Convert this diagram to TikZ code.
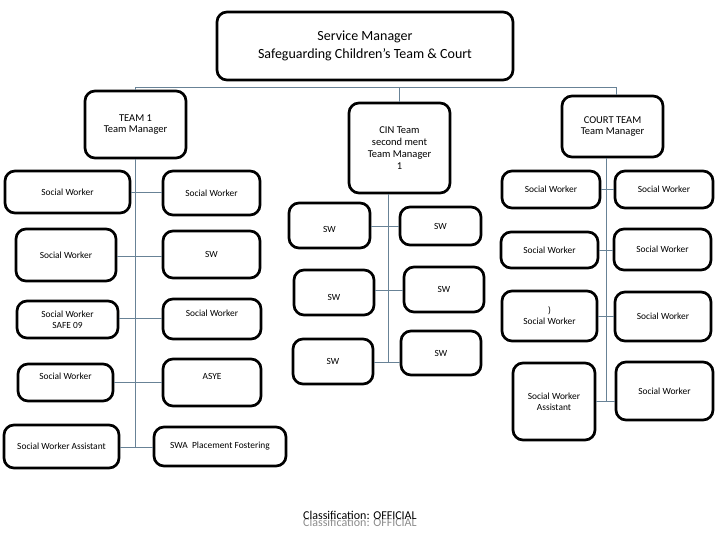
\documentclass[tikz,border=0pt]{standalone}
\usepackage{fontspec}
\setmainfont{Carlito}
\usetikzlibrary{calc}
\definecolor{conncol}{RGB}{104,130,150}
\definecolor{classgray}{RGB}{140,140,140}
\tikzset{
  box/.style={draw=black, line width=2.7pt, rounded corners=10pt, align=center, inner sep=1pt, font=\fontsize{9.4}{11}\selectfont},
  mgr/.style={box, font=\fontsize{10.5}{11.8}\selectfont},
  conn/.style={draw=conncol, line width=1pt},
  ctext/.style={anchor=west, inner sep=0pt, font=\fontsize{12}{13}\selectfont}
}
\begin{document}
\begin{tikzpicture}[x=1pt,y=-1pt]
\useasboundingbox (0,0) rectangle (720,540);
% managers
\node[box, font=\fontsize{14}{17.5}\selectfont, minimum width=296pt, minimum height=68pt] (top) at (365,46) {Service Manager\\Safeguarding Children’s Team \& Court};
\node[mgr, minimum width=101pt, minimum height=67pt] (team1) at (135.5,124.5) {TEAM 1\\Team Manager};
\node[mgr, minimum width=101pt, minimum height=90pt] (cin) at (399.5,148) {CIN Team\\second ment\\Team Manager\\1};
\node[mgr, minimum width=101pt, minimum height=61pt] (court) at (612.5,126.5) {COURT TEAM\\Team Manager};
% left column
\node[box, minimum width=125pt, minimum height=42pt] (l1) at (67.5,192) {Social Worker};
\node[box, minimum width=97pt, minimum height=44pt] (r1) at (211.5,193) {Social Worker};
\node[box, minimum width=100pt, minimum height=52pt] (l2) at (66,255) {Social Worker};
\node[box, minimum width=97pt, minimum height=47pt] (r2) at (211.5,254.5) {SW};
\node[box, minimum width=101pt, minimum height=37pt] (l3) at (67.5,319.5) {Social Worker\\SAFE 09};
\node[box, minimum width=98pt, minimum height=40pt, text height=6pt, text depth=12pt] (r3) at (212,319) {Social Worker};
\node[box, minimum width=95pt, minimum height=37pt, text height=6pt, text depth=12pt] (l4) at (65.5,382.5) {Social Worker};
\node[box, minimum width=98pt, minimum height=47pt, text height=6pt, text depth=12pt] (r4) at (212,382.5) {ASYE};
\node[box, minimum width=115pt, minimum height=43pt] (l5) at (61.5,446.5) {Social Worker Assistant};
\node[box, minimum width=132pt, minimum height=39pt] (r5) at (220,446.5) {SWA\ \ Placement Fostering};
% CIN column
\node[box, minimum width=81pt, minimum height=45pt, text height=17pt, text depth=2pt] (c1l) at (329.5,225.5) {SW};
\node[box, minimum width=81pt, minimum height=38pt] (c1r) at (440.5,226) {SW};
\node[box, minimum width=80pt, minimum height=45pt, text height=17pt, text depth=2pt] (c2l) at (334,292.5) {SW};
\node[box, minimum width=80pt, minimum height=45pt] (c2r) at (444,289.5) {SW};
\node[box, minimum width=80pt, minimum height=45pt] (c3l) at (333,361.5) {SW};
\node[box, minimum width=80pt, minimum height=44pt] (c3r) at (441,353) {SW};
% court column
\node[box, minimum width=98pt, minimum height=37pt] (k1l) at (551,189.5) {Social Worker};
\node[box, minimum width=98pt, minimum height=37pt] (k1r) at (664,189.5) {Social Worker};
\node[box, minimum width=97pt, minimum height=36pt] (k2l) at (549.5,250) {Social Worker};
\node[box, minimum width=97pt, minimum height=41pt] (k2r) at (662.5,249.5) {Social Worker};
\node[box, minimum width=95pt, minimum height=50pt] (k3l) at (549.5,316) {)\\Social Worker};
\node[box, minimum width=96pt, minimum height=49pt] (k3r) at (663,316.5) {Social Worker};
\node[box, minimum width=82pt, minimum height=77pt] (k4l) at (554,401.5) {Social Worker\\Assistant};
\node[box, minimum width=97pt, minimum height=58pt] (k4r) at (664.5,391) {Social Worker};
% top bus
\coordinate (busL) at (136,88);
\coordinate (busR) at (616,88);
\draw[conn] (team1.north) -- (team1.north |- busL) -- (busR) -- (busR |- court.north);
\draw[conn] (cin.north) -- (cin.north |- busL);
% spines
\draw[conn] (team1.south) -- (team1.south |- l5.east);
\draw[conn] ([xshift=-11.5pt]cin.south) -- ([xshift=-11.5pt]cin.south |- c3l.east);
\draw[conn] ([xshift=-6.5pt]court.south) -- ([xshift=-6.5pt]court.south |- k4l.east);
% left rows
\draw[conn] (l1.east |- 0,193) -- (r1.west |- 0,193);
\draw[conn] (l2.east |- 0,256) -- (r2.west |- 0,256);
\draw[conn] (l3.east |- 0,318) -- (r3.west |- 0,318);
\draw[conn] (l4.east |- 0,382) -- (r4.west |- 0,382);
\draw[conn] (l5.east |- 0,447) -- (r5.west |- 0,447);
% CIN rows
\draw[conn] (c1l.east |- 0,227) -- (c1r.west |- 0,227);
\draw[conn] (c2l.east |- 0,290) -- (c2r.west |- 0,290);
\draw[conn] (c3l.east |- 0,362) -- (c3r.west |- 0,362);
% court rows
\draw[conn] (k1l.east |- 0,190) -- (k1r.west |- 0,190);
\draw[conn] (k2l.east |- 0,250) -- (k2r.west |- 0,250);
\draw[conn] (k3l.east |- 0,316) -- (k3r.west |- 0,316);
\draw[conn] (k4l.east |- 0,401) -- (k4r.west |- 0,401);
% classification (two overlapping copies, as in the reference)
\node[ctext, text=classgray] (cls2) at (303,522) {Classification: OFFICIAL};
\node[ctext, text=black] (cls1) at (303,515) {Classification: OFFICIAL};
\end{tikzpicture}
\end{document}
